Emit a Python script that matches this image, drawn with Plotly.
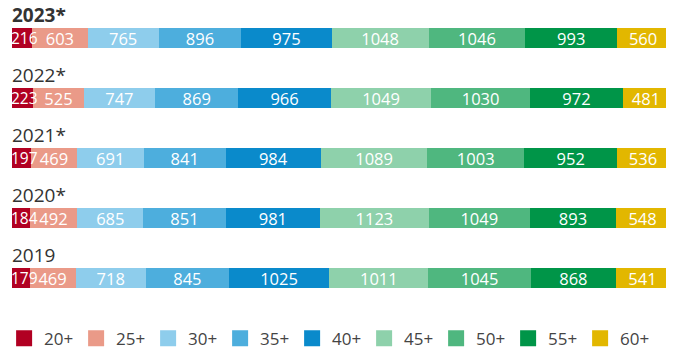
import plotly.graph_objects as go

years = ["2023*", "2022*", "2021*", "2020*", "2019"]
groups = ["20+", "25+", "30+", "35+", "40+", "45+", "50+", "55+", "60+"]
values = {
    "20+": [216, 223, 197, 184, 179],
    "25+": [603, 525, 469, 492, 469],
    "30+": [765, 747, 691, 685, 718],
    "35+": [896, 869, 841, 851, 845],
    "40+": [975, 966, 984, 981, 1025],
    "45+": [1048, 1049, 1089, 1123, 1011],
    "50+": [1046, 1030, 1003, 1049, 1045],
    "55+": [993, 972, 952, 893, 868],
    "60+": [560, 481, 536, 548, 541],
}
colors = ["#b10022", "#ea9a88", "#8ecdec", "#4daedd", "#0a8acb",
          "#8ed1ab", "#4fb77f", "#009548", "#e2b700"]

pos = list(range(len(years)))
fig = go.Figure()
for k, (g, c) in enumerate(zip(groups, colors)):
    fig.add_trace(go.Bar(
        y=pos, x=values[g], orientation="h", name=g,
        marker=dict(color=c, line=dict(width=0)),
        width=0.333,
        text=None if k == 0 else [str(v) for v in values[g]],
        textposition="none" if k == 0 else "inside",
        insidetextanchor="middle",
        constraintext="none", textangle=0, cliponaxis=False,
        textfont=dict(color="white", size=16.5, family="Open Sans"),
        showlegend=False,
    ))
    fig.add_trace(go.Scatter(
        x=[None], y=[None], mode="markers", name=g,
        marker=dict(symbol="square", size=16, color=c),
        showlegend=True,
    ))

# labels of the narrow first segment, drawn on top so they can spill over
for i, v in enumerate(values[groups[0]]):
    fig.add_annotation(
        x=0, xref="x", y=i, yref="y", text=str(v),
        showarrow=False, xanchor="left", yanchor="middle",
        borderpad=0, xshift=-2,
        font=dict(size=15.5, color="white", family="Open Sans"),
    )

for i, yr in enumerate(years):
    fig.add_annotation(
        x=0, xref="paper", y=i - 0.385, yref="y",
        text=("<b>%s</b>" % yr) if i == 0 else yr,
        showarrow=False, xanchor="left", yanchor="middle",
        borderpad=0, xshift=-1,
        font=dict(size=19, color="#333333", family="Open Sans"),
    )

fig.update_layout(
    width=666, height=343,
    margin=dict(l=4, r=5, t=0, b=43, autoexpand=False),
    barmode="stack", barnorm="percent",
    plot_bgcolor="white", paper_bgcolor="white",
    xaxis=dict(visible=False, range=[0, 100]),
    yaxis=dict(visible=False, range=[4.5, -0.5]),
    legend=dict(orientation="h", x=-0.012, xanchor="left", y=-0.102, yanchor="middle",
                traceorder="normal",
                entrywidth=27, entrywidthmode="pixels",
                font=dict(size=17, color="#444444", family="Open Sans"),
                itemsizing="trace"),
    font=dict(family="Open Sans"),
)
fig.write_html("out.html")
